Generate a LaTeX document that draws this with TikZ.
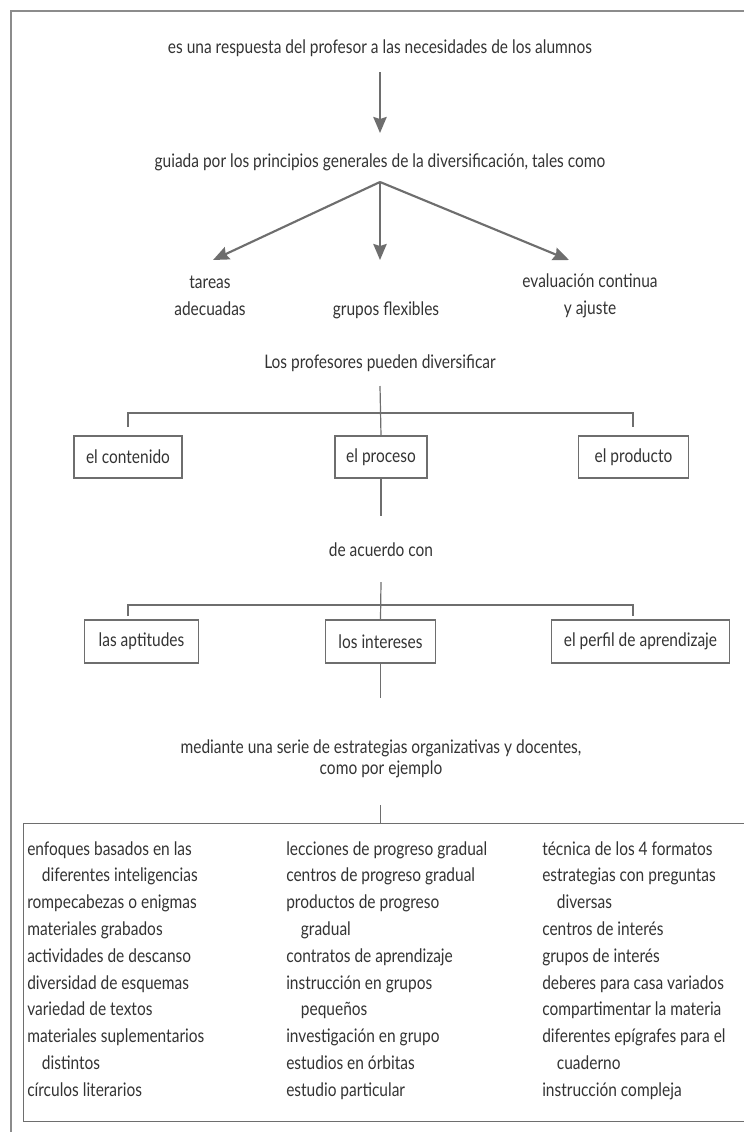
\documentclass[tikz,border=0pt]{standalone}
\usepackage{fontspec}
\setmainfont[FakeStretch=0.83]{Lato}
\usetikzlibrary{arrows.meta,calc}
\definecolor{ink}{HTML}{333333}
\definecolor{rule}{HTML}{6E6E6E}
\definecolor{edge}{HTML}{8C8C8C}
\tikzset{
  txt/.style={text=ink, font=\fontsize{14}{20}\selectfont, align=center, inner sep=0pt},
  item/.style={text=ink, font=\fontsize{14}{20}\selectfont, inner sep=0pt, anchor=base west},
  arr/.style={draw=rule, line width=1.6pt, -{Stealth[length=12pt,width=10pt,inset=1.5pt]}},
  conn/.style={draw=rule, line width=0.9pt},
  box/.style={txt, draw=rule, line width=0.9pt, minimum height=31.5pt},
}
\begin{document}
\begin{tikzpicture}[x=0.75pt, y=-0.75pt]
        \useasboundingbox (0,0) rectangle (743,1132);
        \draw[edge, line width=1.2pt] (11,1140) -- (11,11) -- (760,11);

        \node[txt] (top) at (380,48) {es una respuesta del profesor a las necesidades de los alumnos};
        \node[txt] (guiada) at (380,162) {guiada por los principios generales de la diversificación, tales como};
        \draw[arr] (top) ++(0,24) -- ($(guiada)+(0,-29)$);

        % three principles
        \node[txt] (tareas) at (210,296) {tareas\\adecuadas};
        \node[txt] (grupos) at (386,310) {grupos flexibles};
        \node[txt] (evaluacion) at (590,296) {evaluación continua\\y ajuste};
        \coordinate (fan) at (380,182);
        \coordinate (tipL) at (213,260);
        \coordinate (tipC) at (380,260);
        \coordinate (tipR) at (569,260);
        \draw[arr] (fan) -- (tipL);
        \draw[arr] (fan) -- (tipC);
        \draw[arr] (fan) -- (tipR);

        % what can be diversified
        \node[txt] (profesores) at (380,363) {Los profesores pueden diversificar};
        \node[box, minimum width=81pt] (contenido) at (128,457) {el contenido};
        \node[box, minimum width=69pt] (proceso) at (381,457) {el proceso};
        \node[box, minimum width=82pt] (producto) at (633.5,457) {el producto};
        \coordinate (b1l) at (128,427);
        \coordinate (b1r) at (633,427);
        \draw[conn] (b1l) -- ++(0,-14) -| (b1r);
        \draw[conn] (profesores) ++(0,23) -- (proceso.north);
        \draw[conn] (proceso.south) -- ++(0,37);

        % according to
        \node[txt] (acuerdo) at (381,550) {de acuerdo con};
        \node[box, minimum width=85pt, minimum height=32.3pt] (aptitudes) at (141.5,641.5) {las aptitudes};
        \node[box, minimum width=83pt, minimum height=32.3pt] (intereses) at (380.5,641.5) {los intereses};
        \node[box, minimum width=134pt, minimum height=32.3pt] (perfil) at (640.5,641.5) {el perfil de aprendizaje};
        \coordinate (b2l) at (128,616);
        \coordinate (b2r) at (633,616);
        \draw[conn] (b2l) -- ++(0,-11) -| (b2r);
        \draw[conn] (acuerdo) ++(0,32) -- (intereses.north);
        \draw[conn] (intereses.south) -- ++(0,34);

        % strategies
        \node[txt, font=\fontsize{14}{15.5}\selectfont] (mediante) at (381,759) {mediante una serie de estrategias organizativas y docentes,\\como por ejemplo};
        \node[draw=rule, line width=0.9pt, minimum width=552.75pt, minimum height=223.5pt, inner sep=0pt, anchor=north west] (lista) at (23,823) {};
        \draw[conn] (lista.north -| intereses) -- ++(0,-18);

        \foreach \t [count=\i from 0] in {enfoques basados en las, {\hspace*{11pt}diferentes inteligencias}, rompecabezas o enigmas, materiales grabados, actividades de descanso, diversidad de esquemas, variedad de textos, materiales suplementarios, {\hspace*{11pt}distintos}, círculos literarios}
          \node[item] (la\i) at (27,855+26.8*\i) {\t};
        \foreach \t [count=\i from 0] in {lecciones de progreso gradual, centros de progreso gradual, productos de progreso, {\hspace*{11pt}gradual}, contratos de aprendizaje, instrucción en grupos, {\hspace*{11pt}pequeños}, investigación en grupo, estudios en órbitas, estudio particular}
          \node[item] (lb\i) at (286,855+26.8*\i) {\t};
        \foreach \t [count=\i from 0] in {técnica de los 4 formatos, estrategias con preguntas, {\hspace*{11pt}diversas}, centros de interés, grupos de interés, deberes para casa variados, compartimentar la materia, diferentes epígrafes para el, {\hspace*{11pt}cuaderno}, instrucción compleja}
          \node[item] (lc\i) at (542,855+26.8*\i) {\t};
    \end{tikzpicture}
\end{document}
